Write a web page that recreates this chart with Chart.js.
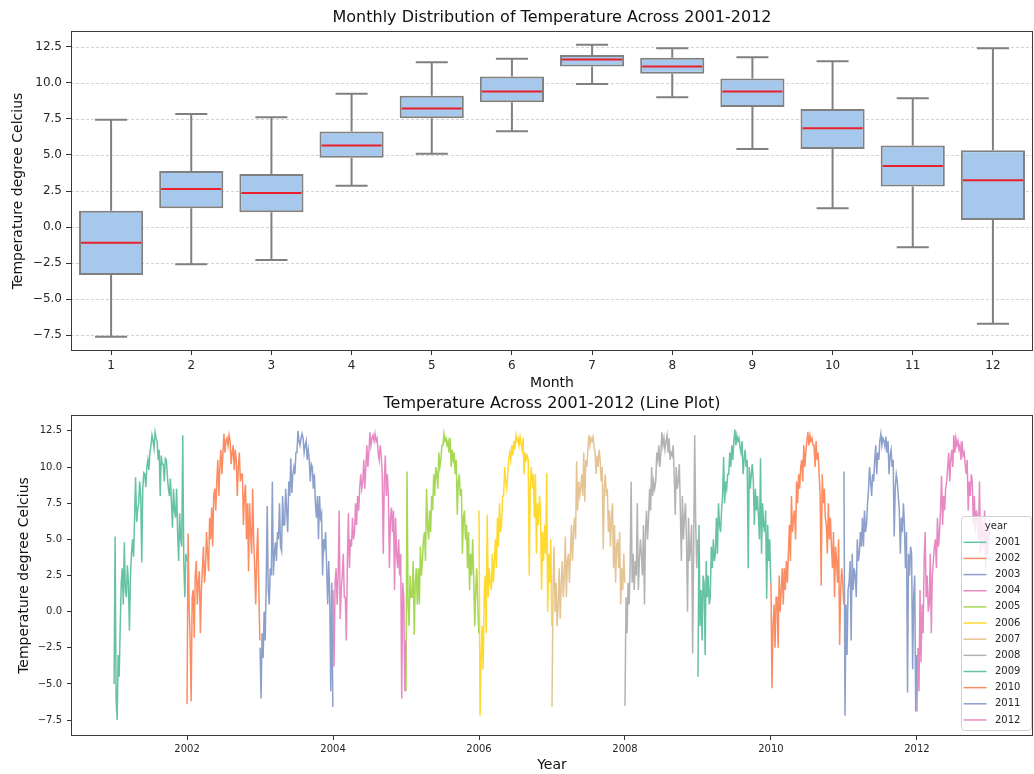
<!DOCTYPE html>
<html>
<head>
<meta charset="utf-8">
<script src="https://cdn.jsdelivr.net/npm/chart.js@4.4.0/dist/chart.umd.min.js"></script>
<style>
  body { margin: 0; background: #fff; width: 1034px; height: 774px; overflow: hidden; position: relative; }
  #box-wrap { position: absolute; left: 0; top: 0; width: 1034px; height: 393px; }
  #line-wrap { position: absolute; left: 0; top: 393px; width: 1034px; height: 381px; }
</style>
</head>
<body>
<div id="box-wrap"><canvas id="box-chart"></canvas></div>
<div id="line-wrap"><canvas id="line-chart"></canvas></div>
<script>
Chart.defaults.font.family = "'DejaVu Sans', sans-serif";
Chart.defaults.color = '#262626';
Chart.defaults.animation = false;

// box plot, one entry per month
const months = ['1', '2', '3', '4', '5', '6', '7', '8', '9', '10', '11', '12'];
const whiskLow = [-7.62, -2.59, -2.29, 2.87, 5.09, 6.64, 9.93, 9.01, 5.42, 1.30, -1.41, -6.71];
const q1 = [-3.33, 1.30, 1.02, 4.81, 7.55, 8.66, 11.13, 10.63, 8.33, 5.42, 2.82, 0.49];
const median = [-1.09, 2.64, 2.36, 5.65, 8.22, 9.40, 11.62, 11.13, 9.40, 6.85, 4.24, 3.24];
const q3 = [1.13, 3.89, 3.68, 6.62, 9.10, 10.44, 11.94, 11.74, 10.30, 8.19, 5.65, 5.32];
const whiskHigh = [7.45, 7.85, 7.62, 9.24, 11.44, 11.67, 12.64, 12.41, 11.78, 11.50, 8.94, 12.41];

const yTicks = [-7.5, -5, -2.5, 0, 2.5, 5, 7.5, 10, 12.5];
const yearTicks = [2002, 2004, 2006, 2008, 2010, 2012];

// line plot, 6 readings per month for each year
const years = [2001, 2002, 2003, 2004, 2005, 2006, 2007, 2008, 2009, 2010, 2011, 2012];
const yearColors = ['#66c2a5', '#fc8d62', '#8da0cb', '#e78ac3', '#a6d854', '#ffd92f',
                    '#e5c494', '#b3b3b3', '#66c2a5', '#fc8d62', '#8da0cb', '#e78ac3'];

const t2001 = [-5.0, 5.2, -6.0, -7.5, -3.0, -4.5, -1.0, 2.0, 3.0, 0.5, 4.8, 1.5,
  1.0, 3.2, 2.0, -1.3, 2.5, 4.0, 5.0, 3.8, 6.5, 9.3, 6.2, 7.0,
  7.5, 9.0, 8.0, 3.4, 8.5, 9.6, 9.5, 8.6, 10.0, 10.5, 9.8, 11.0,
  11.5, 12.2, 11.8, 11.3, 12.4, 12.0, 11.8, 10.5, 11.2, 8.0, 10.8, 10.2,
  10.2, 9.0, 10.6, 10.5, 9.4, 8.5, 8.0, 9.2, 7.5, 5.8, 8.5, 7.0,
  6.5, 8.5, 5.5, 3.5, 6.8, 5.0, 4.5, 12.2, 3.5, 1.0, 4.0, 3.5];
const t2002 = [-6.4, 5.4, 0.5, -2.0, -6.2, 1.0, 1.5, -1.8, 2.5, 3.5, 0.5, 2.0,
  2.8, -1.5, 1.5, 3.0, 4.5, 2.0, 3.0, 5.5, 4.0, 2.8, 6.5, 5.0,
  7.2, 4.5, 8.0, 8.5, 7.0, 9.0, 10.5, 8.0, 10.0, 11.2, 9.5, 11.0,
  12.3, 11.0, 11.8, 12.0, 11.5, 12.2, 11.8, 10.2, 11.0, 11.5, 9.8, 11.2,
  10.5, 8.0, 10.0, 11.0, 9.0, 9.5, 9.5, 6.0, 8.0, 8.8, 5.0, 7.5,
  2.8, 7.5, 5.5, 4.0, 8.5, 5.0, 3.0, 0.5, 4.0, 5.8, 1.5, -2.0];
const t2003 = [-2.5, -6.0, -1.5, -3.2, 0.0, -2.0, 2.0, 7.3, 1.5, 0.5, 3.0, 2.5,
  9.0, 2.5, 4.0, 4.8, 3.5, 5.5, 5.0, 7.5, 4.5, 4.2, 8.0, 6.0,
  6.0, 8.5, 7.0, 5.5, 9.0, 8.0, 10.6, 8.2, 9.5, 10.0, 9.5, 11.0,
  11.0, 12.5, 11.8, 11.5, 12.0, 12.3, 12.0, 11.0, 11.5, 11.8, 10.5, 11.2,
  10.5, 9.0, 10.2, 10.0, 8.5, 9.5, 7.5, 6.5, 8.0, 5.0, 8.0, 6.5,
  6.8, 2.5, 5.0, 4.5, 5.5, 3.0, 0.5, 3.5, 1.0, -5.5, 2.0, -6.6];
const t2004 = [1.5, -3.8, 2.0, 3.0, 0.5, 2.5, 7.0, -0.5, 1.5, 2.5, 4.0, 1.0,
  1.0, -2.0, 3.5, 6.8, 3.0, 5.0, 4.5, 6.5, 5.0, 5.5, 7.5, 6.0,
  8.0, 7.0, 8.5, 9.5, 8.5, 9.0, 10.5, 8.5, 10.0, 11.5, 10.0, 11.0,
  12.4, 11.5, 12.0, 12.2, 11.8, 12.3, 11.8, 12.0, 11.0, 10.5, 11.5, 10.8,
  9.5, 4.0, 9.0, 10.8, 8.0, 9.5, 8.0, 3.0, 6.5, 7.2, 5.5, 7.0,
  1.5, 6.5, 4.0, 3.0, 5.0, 2.5, 4.0, -6.0, 2.0, 1.0, -5.5, -2.0];
const t2005 = [-5.5, 9.7, 0.5, -1.0, 2.5, 1.0, 1.0, 3.5, -1.6, 2.0, 3.0, 0.5,
  3.0, 0.5, 4.5, 2.5, 3.5, 5.0, 5.5, 3.5, 8.5, 6.0, 5.0, 7.0,
  5.5, 8.0, 7.0, 9.5, 8.0, 10.0, 9.5, 8.5, 11.0, 10.0, 10.5, 11.5,
  11.5, 12.3, 11.8, 12.0, 11.5, 11.8, 11.0, 12.0, 10.0, 11.2, 10.5, 11.0,
  9.5, 10.5, 6.7, 9.0, 9.5, 8.0, 8.5, 4.0, 6.5, 7.0, 5.0, 6.0,
  3.0, 5.5, 1.5, 4.0, 2.5, 5.0, 2.5, -1.0, 1.5, 3.0, 0.5, -1.5];
const t2006 = [7.0, -7.2, -3.5, -1.0, -4.0, 1.0, 2.5, -1.5, 6.7, 1.0, 3.0, 2.0,
  1.5, 4.0, 2.0, 3.5, 5.0, 3.0, 6.5, 4.5, 7.5, 5.5, 6.0, 8.0,
  8.0, 10.0, 9.0, 8.5, 9.5, 10.5, 11.0, 10.5, 11.5, 10.8, 11.8, 11.2,
  12.2, 11.8, 12.0, 11.5, 12.1, 11.6, 11.2, 12.0, 9.5, 11.0, 10.5, 10.8,
  10.5, 2.5, 9.0, 10.0, 8.5, 9.5, 6.5, 9.5, 4.0, 7.5, 6.0, 8.0,
  7.0, 1.5, 5.5, 3.5, 6.0, 4.0, 9.6, 0.0, 4.0, 2.0, 5.0, -1.0];
const t2007 = [-6.6, 1.5, 4.5, 0.0, 2.0, -1.0, 0.5, 3.0, -0.5, 2.0, 3.5, 1.0,
  2.5, 5.2, 1.0, 3.5, 4.0, 2.0, 4.0, 6.0, 3.5, 5.5, 6.5, 5.0,
  10.4, 7.0, 9.0, 8.0, 8.5, 9.5, 8.0, 11.0, 7.6, 10.5, 10.0, 11.2,
  12.2, 11.5, 12.0, 11.8, 12.1, 11.4, 11.0, 9.5, 10.8, 10.0, 11.2, 10.5,
  9.0, 10.0, 4.3, 8.5, 9.5, 8.0, 8.5, 5.5, 7.0, 4.5, 6.5, 7.5,
  3.0, 6.0, 2.0, 4.5, 5.0, 3.0, 5.5, 0.5, 3.0, 1.5, 4.0, 2.0];
const t2008 = [-6.5, 1.0, -1.5, 2.0, 0.5, 3.0, 9.0, 2.0, 4.0, 1.5, 3.5, 2.5,
  7.5, 1.5, 3.5, 5.0, 4.0, 2.5, 6.0, 0.5, 5.5, 7.0, 5.0, 6.5,
  8.5, 7.0, 10.0, 8.0, 9.0, 8.5, 9.0, 11.0, 10.5, 11.5, 10.0, 11.0,
  12.4, 11.5, 12.0, 11.2, 11.8, 12.2, 11.0, 12.0, 10.5, 11.0, 10.8, 11.5,
  9.5, 6.7, 10.0, 8.5, 9.0, 10.2, 7.0, 3.5, 8.0, 5.0, 6.5, 7.5,
  5.0, 0.0, 6.5, 3.5, 4.5, 6.0, -2.9, 4.5, 12.2, 6.0, 3.0, 5.0];
const t2009 = [-4.5, 6.0, -1.0, 1.5, -2.0, 2.5, 2.0, -3.0, 3.5, 1.0, 2.5, 0.5,
  1.0, 4.5, 3.0, 5.0, 3.5, 4.0, 6.5, 4.0, 7.5, 6.0, 5.5, 7.0,
  8.0, 10.7, 7.5, 9.0, 8.5, 9.5, 9.5, 11.0, 10.0, 11.5, 10.5, 11.8,
  12.6, 11.5, 12.2, 11.8, 12.0, 11.4, 11.0, 11.8, 9.5, 10.5, 11.2, 10.0,
  10.5, 3.0, 10.0, 8.5, 9.5, 10.2, 9.0, 6.0, 8.5, 7.0, 8.0, 6.5,
  5.0, 10.6, 4.0, 7.5, 6.0, 5.5, 7.0, 0.9, 6.0, 3.5, 5.0, 2.0];
const t2010 = [2.0, -5.3, -1.0, 0.5, -2.5, 1.0, 1.0, -2.5, 2.5, 0.0, 1.5, 3.0,
  0.5, 3.0, 1.5, 3.5, 2.0, 4.0, 6.0, 3.5, 8.0, 5.5, 6.5, 7.0,
  5.0, 9.0, 7.5, 9.5, 8.5, 10.0, 10.5, 9.0, 11.5, 10.0, 11.0, 11.8,
  12.4, 11.5, 12.2, 11.8, 12.0, 11.5, 11.5, 10.0, 11.8, 10.5, 11.0, 9.5,
  8.0, 1.8, 9.5, 7.5, 8.5, 6.5, 6.0, 4.0, 7.5, 5.0, 6.5, 4.5,
  3.0, 5.5, 1.0, 4.5, 3.5, 2.0, 5.0, -2.3, 1.5, 3.0, 2.0, 0.5];
const t2011 = [9.7, -7.2, 0.5, -3.0, 1.5, 2.0, 3.5, -2.0, 4.0, 1.5, 3.0, 2.5,
  1.0, 5.0, 3.5, 4.0, 5.5, 4.5, 6.5, 4.5, 7.0, 5.5, 6.0, 7.5,
  8.5, 10.0, 9.0, 8.0, 9.5, 9.0, 10.5, 11.5, 9.5, 11.0, 10.5, 11.8,
  12.3, 11.5, 12.0, 11.8, 11.4, 12.1, 11.0, 11.8, 9.5, 10.8, 11.2, 10.0,
  10.5, 5.2, 8.5, 9.5, 9.0, 8.0, 7.0, 4.0, 6.5, 5.5, 7.5, 6.0,
  3.0, 5.5, -5.6, 4.0, 2.5, 4.5, 4.0, -4.0, 1.0, 2.5, -6.9, -3.0];
const t2012 = [-6.9, -2.5, -5.5, 1.5, -3.5, 0.5, -1.5, 3.5, 5.5, 1.0, 2.5, 0.0,
  0.5, 4.0, -1.5, 2.5, 3.5, 4.5, 5.0, 3.0, 6.5, 4.5, 5.5, 7.0,
  9.4, 6.0, 8.0, 7.0, 8.5, 9.0, 10.0, 11.0, 9.0, 10.5, 11.2, 10.0,
  12.2, 11.0, 12.0, 11.5, 11.8, 11.2, 11.5, 10.5, 11.8, 10.8, 11.0, 10.2,
  9.5, 10.5, 7.0, 9.0, 8.0, 9.5, 9.0, 6.0, 8.0, 5.5, 7.0, 6.5,
  5.0, 9.0, 4.0, 6.5, 5.5, 4.5, 7.0, 3.0, 5.5, 4.0, 6.0, 5.0];
const yearSeries = [t2001, t2002, t2003, t2004, t2005, t2006, t2007, t2008, t2009, t2010, t2011, t2012];

function fmtTick(v) {
  return (v < 0 ? '\u2212' : '') + Math.abs(v).toFixed(1);
}

// dashed horizontal grid on the box plot
const dashGrid = {
  id: 'dashGrid',
  beforeDatasetsDraw(chart) {
    const { ctx, chartArea: a } = chart;
    const y = chart.scales.y;
    ctx.save();
    ctx.strokeStyle = '#c8c8c8';
    ctx.lineWidth = 0.8;
    ctx.setLineDash([3, 2]);
    y.ticks.forEach(t => {
      const py = Math.round(y.getPixelForValue(t.value)) + 0.5;
      ctx.beginPath();
      ctx.moveTo(a.left, py);
      ctx.lineTo(a.right, py);
      ctx.stroke();
    });
    ctx.restore();
  }
};

// whiskers, caps and medians
const boxParts = {
  id: 'boxParts',
  afterDatasetsDraw(chart) {
    const { ctx } = chart;
    const y = chart.scales.y;
    const meta = chart.getDatasetMeta(0);
    ctx.save();
    meta.data.forEach((bar, i) => {
      const x = bar.x;
      const half = bar.width / 2;
      const cap = bar.width / 4;
      ctx.strokeStyle = '#808080';
      ctx.lineWidth = 2;
      ctx.beginPath();
      ctx.moveTo(x, y.getPixelForValue(q3[i]));
      ctx.lineTo(x, y.getPixelForValue(whiskHigh[i]));
      ctx.moveTo(x, y.getPixelForValue(q1[i]));
      ctx.lineTo(x, y.getPixelForValue(whiskLow[i]));
      ctx.moveTo(x - cap, y.getPixelForValue(whiskHigh[i]));
      ctx.lineTo(x + cap, y.getPixelForValue(whiskHigh[i]));
      ctx.moveTo(x - cap, y.getPixelForValue(whiskLow[i]));
      ctx.lineTo(x + cap, y.getPixelForValue(whiskLow[i]));
      ctx.stroke();
      ctx.strokeStyle = '#e8212b';
      ctx.beginPath();
      ctx.moveTo(x - half + 2, y.getPixelForValue(median[i]));
      ctx.lineTo(x + half - 2, y.getPixelForValue(median[i]));
      ctx.stroke();
    });
    ctx.restore();
  }
};

const frame = {
  id: 'frame',
  afterDatasetsDraw(chart) {
    const { ctx, chartArea: a } = chart;
    ctx.save();
    ctx.strokeStyle = '#3a3a3a';
    ctx.lineWidth = 1;
    ctx.strokeRect(Math.round(a.left) + 0.5, Math.round(a.top) + 0.5,
                   Math.round(a.width) - 1, Math.round(a.height) - 1);
    ctx.restore();
  }
};

// matplotlib style legend box in the lower right
const yearLegend = {
  id: 'yearLegend',
  afterDraw(chart) {
    const { ctx, chartArea: a } = chart;
    const w = 70, h = 214;
    const x0 = a.right - 2 - w;
    const y0 = a.bottom - 6 - h;
    ctx.save();
    ctx.fillStyle = 'rgba(255,255,255,0.8)';
    ctx.strokeStyle = '#d0d0d0';
    ctx.lineWidth = 1;
    ctx.beginPath();
    ctx.roundRect(x0 + 0.5, y0 + 0.5, w, h, 3);
    ctx.fill();
    ctx.stroke();
    ctx.fillStyle = '#262626';
    ctx.font = "10px 'DejaVu Sans', sans-serif";
    ctx.textBaseline = 'middle';
    ctx.textAlign = 'center';
    ctx.fillText('year', x0 + w / 2, y0 + 10);
    ctx.textAlign = 'left';
    years.forEach((yr, i) => {
      const ly = y0 + 26.3 + i * 16.15;
      ctx.strokeStyle = yearColors[i];
      ctx.lineWidth = 1.5;
      ctx.beginPath();
      ctx.moveTo(x0 + 2.5, ly);
      ctx.lineTo(x0 + 25.5, ly);
      ctx.stroke();
      ctx.fillText(String(yr), x0 + 34, ly);
    });
    ctx.restore();
  }
};

new Chart(document.getElementById('box-chart'), {
  type: 'bar',
  data: {
    labels: months,
    datasets: [{
      data: q1.map((v, i) => [v, q3[i]]),
      backgroundColor: '#a7c8ed',
      borderColor: '#808080',
      borderWidth: 2,
      borderSkipped: false,
      barPercentage: 0.8,
      categoryPercentage: 1.0
    }]
  },
  options: {
    responsive: true,
    maintainAspectRatio: false,
    layout: { padding: { left: 0, right: 1, top: 0, bottom: 0 } },
    plugins: {
      legend: { display: false },
      tooltip: { enabled: false },
      title: {
        display: true,
        fullSize: false,
        text: 'Monthly Distribution of Temperature Across 2001-2012',
        color: '#111',
        font: { size: 16, weight: 'normal' },
        padding: { top: 8, bottom: 3.8 }
      }
    },
    scales: {
      x: {
        type: 'category',
        offset: true,
        grid: { offset: false, drawOnChartArea: false, drawTicks: true, tickLength: 4, color: '#333' },
        border: { display: false },
        ticks: { font: { size: 12 }, padding: 4, color: '#262626' },
        title: { display: true, text: 'Month', color: '#111', font: { size: 14 }, padding: { top: 0, bottom: 1 } },
        afterFit(s) { s.height = 42; }
      },
      y: {
        type: 'linear',
        min: -8.6,
        max: 13.6,
        afterBuildTicks(s) { s.ticks = yTicks.map(v => ({ value: v })); },
        grid: { drawOnChartArea: false, drawTicks: true, tickLength: 5, color: '#333' },
        border: { display: false },
        ticks: { font: { size: 12 }, padding: 4, color: '#262626', callback: v => fmtTick(v) },
        title: { display: true, text: 'Temperature degree Celcius', color: '#111', font: { size: 14 }, padding: { top: 10 } },
        afterFit(s) { s.width = 71; }
      }
    }
  },
  plugins: [dashGrid, boxParts, frame]
});

const stepPerReading = (364 / 365) / (t2001.length - 1);

new Chart(document.getElementById('line-chart'), {
  type: 'line',
  data: {
    datasets: years.map((yr, k) => ({
      label: String(yr),
      data: yearSeries[k].map((v, i) => ({ x: yr + i * stepPerReading, y: v })),
      borderColor: yearColors[k],
      borderWidth: 1.5,
      pointRadius: 0,
      tension: 0,
      fill: false
    }))
  },
  options: {
    responsive: true,
    maintainAspectRatio: false,
    layout: { padding: { left: 0, right: 1, top: 0, bottom: 0 } },
    plugins: {
      legend: { display: false },
      tooltip: { enabled: false },
      title: {
        display: true,
        fullSize: false,
        text: 'Temperature Across 2001-2012 (Line Plot)',
        color: '#111',
        font: { size: 16, weight: 'normal' },
        padding: { top: 1.4, bottom: 1.4 }
      }
    },
    scales: {
      x: {
        type: 'linear',
        min: 2000.41,
        max: 2013.59,
        afterBuildTicks(s) { s.ticks = yearTicks.map(v => ({ value: v })); },
        grid: { drawOnChartArea: false, drawTicks: true, tickLength: 4, color: '#333' },
        border: { display: false },
        ticks: { font: { size: 10 }, padding: 3, color: '#262626', callback: v => String(v) },
        title: { display: true, text: 'Year', color: '#111', font: { size: 14 }, padding: { top: 0, bottom: 0 } },
        afterFit(s) { s.height = 38; }
      },
      y: {
        type: 'linear',
        min: -8.6,
        max: 13.6,
        afterBuildTicks(s) { s.ticks = yTicks.map(v => ({ value: v })); },
        grid: { drawOnChartArea: false, drawTicks: true, tickLength: 4, color: '#333' },
        border: { display: false },
        ticks: { font: { size: 10 }, padding: 5, color: '#262626', callback: v => fmtTick(v) },
        title: { display: true, text: 'Temperature degree Celcius', color: '#111', font: { size: 14 }, padding: { top: 15.6 } },
        afterFit(s) { s.width = 71; }
      }
    }
  },
  plugins: [frame, yearLegend]
});
</script>
</body>
</html>
